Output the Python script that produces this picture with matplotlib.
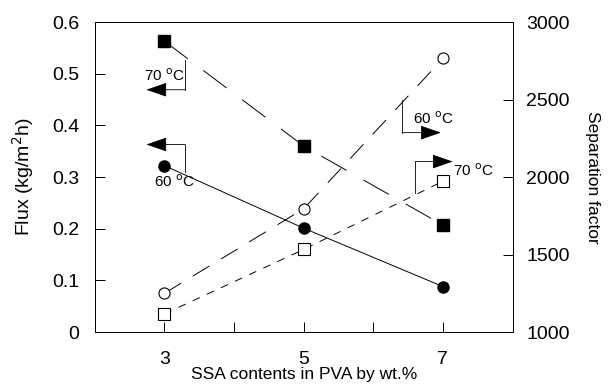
import matplotlib.pyplot as plt
import numpy as np

plt.rcParams['font.family'] = ['Liberation Sans', 'DejaVu Sans']

# SSA content (wt.%)
ssa = [3, 5, 7]

# flux (kg/m2h), left axis
flux_70 = [0.563, 0.360, 0.207]
flux_60 = [0.322, 0.201, 0.088]

# separation factor, right axis
sep_60 = [1250, 1795, 2765]
sep_70 = [1117, 1533, 1973]

fig = plt.figure(figsize=(6.08, 3.87), dpi=100)
ax = fig.add_axes([0.156, 0.142, 0.687, 0.801])
ax2 = ax.twinx()

ax.plot(ssa, flux_70, color='black', lw=0.7, dashes=(30, 20),
        marker='s', ms=8, mfc='black', mec='black')
ax.plot(ssa, flux_60, color='black', lw=0.7, ls='-',
        marker='o', ms=8, mfc='black', mec='black')
ax2.plot(ssa, sep_60, color='black', lw=0.7, dashes=(20, 14),
         marker='o', ms=8, mfc='white', mec='black', mew=0.8)
ax2.plot(ssa, sep_70, color='black', lw=0.7, dashes=(8, 8),
         marker='s', ms=8, mfc='white', mec='black', mew=0.8)

ax.set_xlim(2, 8)
ax.set_ylim(0, 0.6)
ax2.set_ylim(1000, 3000)
ax.set_xticks([3, 5, 7])
ax.set_xticks([4, 6], minor=True)
ax.set_yticks(np.arange(0, 0.61, 0.1))
ax.set_yticklabels(['0', '0.1', '0.2', '0.3', '0.4', '0.5', '0.6'])
ax2.set_yticks([1000, 1500, 2000, 2500, 3000])

for a in (ax, ax2):
    a.tick_params(direction='in', length=7, width=0.7, labelsize=14)
    a.tick_params(which='minor', direction='in', length=7, width=0.7)
    for s in a.spines.values():
        s.set_linewidth(0.7)
ax.tick_params(axis='y', pad=11)
ax.tick_params(axis='x', pad=14)
ax2.tick_params(axis='y', pad=10)

ax.set_xlabel('SSA contents in PVA by wt.%', fontsize=12.5, labelpad=-1)
ax.set_ylabel('Flux (kg/m$^2$h)', fontsize=14, labelpad=12)
ax2.set_ylabel('Separation factor', fontsize=12.5, rotation=270, labelpad=22)

# bracket + arrow annotations: (text, text xy, vertical line x, y from, y to, arrow tip x)
notes = [
    ('70 $^{\\rm o}$C', (3.0, 0.496), 3.30, 0.527, 0.469, 2.74),
    ('60 $^{\\rm o}$C', (3.14, 0.291), 3.30, 0.309, 0.363, 2.74),
    ('60 $^{\\rm o}$C', (6.86, 0.413), 6.41, 0.450, 0.386, 6.97),
    ('70 $^{\\rm o}$C', (7.44, 0.313), 6.60, 0.270, 0.330, 7.14),
]
for txt, txy, vx, y0, y1, tip in notes:
    ax.plot([vx, vx], [y0, y1], color='black', lw=0.6)
    ax.annotate('', xy=(tip, y1), xytext=(vx, y1),
                arrowprops=dict(arrowstyle='-|>,head_length=1.3,head_width=0.45',
                                color='black', lw=0.6, shrinkA=0, shrinkB=0))
    ax.text(txy[0], txy[1], txt, fontsize=11, ha='center', va='center')

fig.savefig('out.png', dpi=100)
